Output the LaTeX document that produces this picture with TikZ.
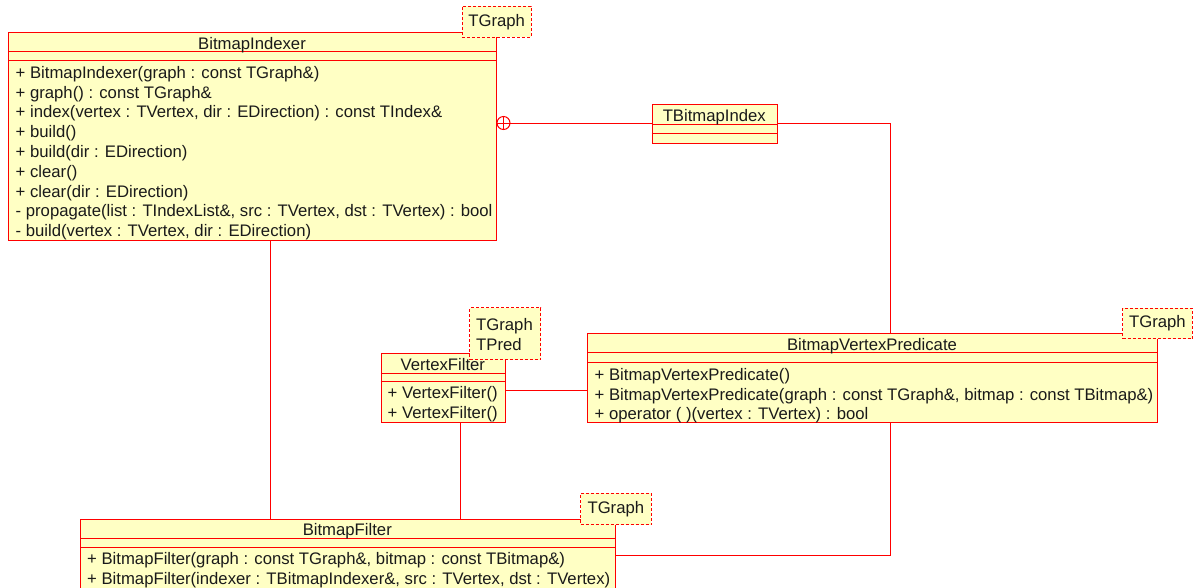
\documentclass[tikz,border=0pt]{standalone}
\usepackage{fontspec}
\setmainfont{Liberation Sans}
\usetikzlibrary{calc}

\definecolor{umlred}{RGB}{255,0,0}
\definecolor{umlfill}{RGB}{255,255,196}
\definecolor{umltext}{RGB}{26,26,26}
\newcommand\umlfont{\fontsize{16.7}{20}\selectfont}

\tikzset{
  cls/.style={draw=umlred, fill=umlfill, line width=1pt, inner sep=0pt, anchor=north west},
  tparam/.style={draw=umlred, fill=umlfill, line width=1pt, dash pattern=on 3pt off 2pt,
                 inner sep=0pt, anchor=north west, font=\umlfont, text=umltext},
  sepline/.style={draw=umlred, line width=1pt},
  member/.style={anchor=base west, inner sep=0pt, font=\umlfont, text=umltext},
  title/.style={anchor=base, inner sep=0pt, font=\umlfont, text=umltext},
  link/.style={draw=umlred, line width=1pt},
}

\begin{document}
\begin{tikzpicture}[x=1pt, y=-1pt]
  \clip (0,0) rectangle (1197,587);
  \fill[white] (0,0) rectangle (1197,587);

  % ---------- BitmapIndexer ----------
  \node[cls, minimum width=487.7, minimum height=208.3] (bi) at (8.3,31.7) {};
  \draw[sepline] (bi.west |- 0,51.7) -- (bi.east |- 0,51.7);
  \draw[sepline] (bi.west |- 0,60.7) -- (bi.east |- 0,60.7);
  \node[title] (bi-name) at (252,49.2) {BitmapIndexer};
  \node[member] (bi-m1) at (15.5,78.2)  {+ BitmapIndexer(graph : const TGraph\&)};
  \node[member] (bi-m2) at (15.5,98.0)  {+ graph() : const TGraph\&};
  \node[member] (bi-m3) at (15.5,117.8) {+ index(vertex : TVertex, dir : EDirection) : const TIndex\&};
  \node[member] (bi-m4) at (15.5,137.6) {+ build()};
  \node[member] (bi-m5) at (15.5,157.4) {+ build(dir : EDirection)};
  \node[member] (bi-m6) at (15.5,177.2) {+ clear()};
  \node[member] (bi-m7) at (15.5,197.0) {+ clear(dir : EDirection)};
  \node[member] (bi-m8) at (15.5,216.8) {- propagate(list : TIndexList\&, src : TVertex, dst : TVertex) : bool};
  \node[member] (bi-m9) at (15.5,236.6) {- build(vertex : TVertex, dir : EDirection)};
  \node[tparam, minimum width=69, minimum height=31] (bi-tp) at (461.7,5.7) {TGraph};

  % ---------- TBitmapIndex ----------
  \node[cls, minimum width=125.3, minimum height=39.3] (tbi) at (651.7,104) {};
  \draw[sepline] (tbi.west |- 0,124.3) -- (tbi.east |- 0,124.3);
  \draw[sepline] (tbi.west |- 0,133.7) -- (tbi.east |- 0,133.7);
  \node[title] (tbi-name) at (714.3,121.3) {TBitmapIndex};

  % ---------- VertexFilter ----------
  \node[cls, minimum width=124.3, minimum height=69.6] (vf) at (380.7,352.7) {};
  \draw[sepline] (vf.west |- 0,373.3) -- (vf.east |- 0,373.3);
  \draw[sepline] (vf.west |- 0,381.7) -- (vf.east |- 0,381.7);
  \node[title] (vf-name) at (442.8,370.2) {VertexFilter};
  \node[member] (vf-m1) at (387.5,398.8) {+ VertexFilter()};
  \node[member] (vf-m2) at (387.5,418.6) {+ VertexFilter()};
  \node[tparam, minimum width=71, minimum height=51.7] (vf-tp) at (469.3,307.3) {};
  \node[member] (vf-tp1) at (476,330.7) {TGraph};
  \node[member] (vf-tp2) at (476,350.7) {TPred};

  % ---------- BitmapVertexPredicate ----------
  \node[cls, minimum width=569.4, minimum height=89.6] (bvp) at (587.3,332.7) {};
  \draw[sepline] (bvp.west |- 0,352.7) -- (bvp.east |- 0,352.7);
  \draw[sepline] (bvp.west |- 0,362.7) -- (bvp.east |- 0,362.7);
  \node[title] (bvp-name) at (872,350.2) {BitmapVertexPredicate};
  \node[member] (bvp-m1) at (594.5,380.2) {+ BitmapVertexPredicate()};
  \node[member] (bvp-m2) at (594.5,400.0) {+ BitmapVertexPredicate(graph : const TGraph\&, bitmap : const TBitmap\&)};
  \node[member] (bvp-m3) at (594.5,419.8) {+ operator ( )(vertex : TVertex) : bool};
  \node[tparam, minimum width=69.7, minimum height=30.6] (bvp-tp) at (1122,307.7) {TGraph};

  % ---------- BitmapFilter ----------
  \node[cls, minimum width=534.7, minimum height=100] (bf) at (80,519) {};
  \draw[sepline] (bf.west |- 0,538.3) -- (bf.east |- 0,538.3);
  \draw[sepline] (bf.west |- 0,547.3) -- (bf.east |- 0,547.3);
  \node[title] (bf-name) at (347.3,535.8) {BitmapFilter};
  \node[member] (bf-m1) at (87,564.8) {+ BitmapFilter(graph : const TGraph\&, bitmap : const TBitmap\&)};
  \node[member] (bf-m2) at (87,584.6) {+ BitmapFilter(indexer : TBitmapIndexer\&, src : TVertex, dst : TVertex)};
  \node[tparam, minimum width=70.7, minimum height=31.6] (bf-tp) at (580,492.7) {TGraph};

  % ---------- connectors ----------
  % nesting: TBitmapIndex is declared inside BitmapIndexer
  \coordinate (nest) at (503.5,123);
  \draw[link] (nest) circle (6.5);
  \draw[link] ($(nest)+(0,-6.5)$) -- ($(nest)+(0,6.5)$);
  \draw[link] ($(nest)+(-6.5,0)$) -- (tbi.west |- nest);

  \draw[link] (tbi.east |- 0,123) -- (890,123) -- (890,0 |- bvp.north);
  \draw[link] (vf.east |- 0,390) -- (bvp.west |- 0,390);
  \draw[link] (460,0 |- vf.south) -- (460,0 |- bf.north);
  \draw[link] (270,0 |- bi.south) -- (270,0 |- bf.north);
  \draw[link] (890,0 |- bvp.south) -- (890,555.7) -- (bf.east |- 0,555.7);
\end{tikzpicture}
\end{document}
